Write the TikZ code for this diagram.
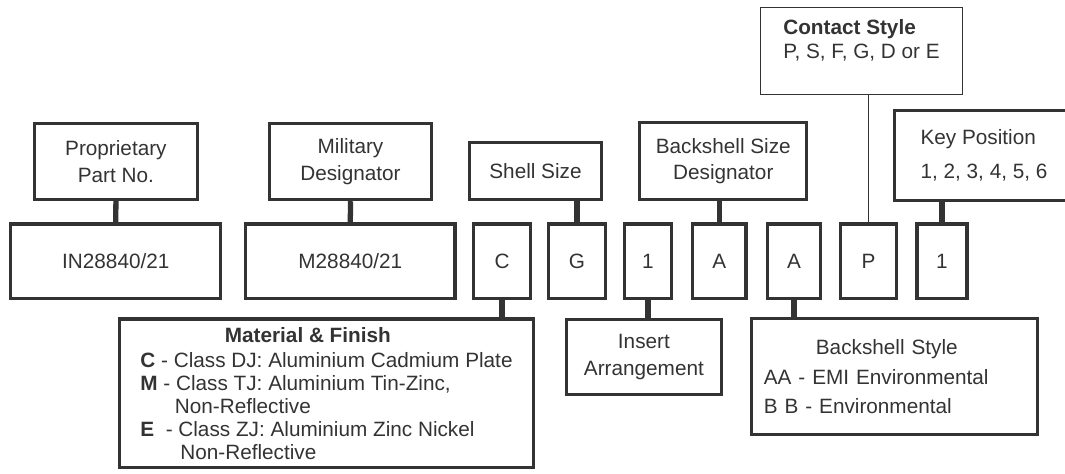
\documentclass[tikz,border=0pt]{standalone}
\usepackage{fontspec}
\setmainfont{Liberation Sans}
\definecolor{ink}{HTML}{333333}

\begin{document}
\begin{tikzpicture}[
        font=\fontsize{11.8}{15.1}\selectfont,
        box/.style={draw=ink, text=ink, line width=1.8pt, rectangle, align=center, inner sep=0pt},
        thinbox/.style={draw=ink, text=ink, line width=0.8pt, rectangle, align=left, inner sep=0pt},
        link/.style={draw=ink, line width=3pt},
        thinlink/.style={draw=ink, line width=1pt}
    ]
        \useasboundingbox (0,0) rectangle (21.3,-9.46);
        \clip (0,0) rectangle (21.3,-9.46);

        % Draw heading boxes
        \node[box, minimum height=1.53cm, minimum width=3.27cm] (prop) at (2.318,-3.228) {Proprietary \\ Part No.};
        \node[box, minimum height=1.53cm, minimum width=3.25cm] (mil) at (7.01,-3.228) {Military \\ Designator};
        \node[box, minimum height=1.15cm, minimum width=2.65cm] (shell) at (10.71,-3.418) {Shell Size};
        \node[box, minimum height=1.54cm, minimum width=3.34cm] (bsize) at (14.466,-3.22) {Backshell Size \\ Designator};
        \node[thinbox, font=\fontsize{11.8}{13.7}\selectfont, minimum height=1.73cm, minimum width=4.03cm] (contact) at (17.23,-1.02) {\textbf{Contact Style} \\ P, S, F, G, D or E \\ \mbox{}};
        \node[box, align=left, minimum height=1.8cm, minimum width=3.58cm] (keypos) at (19.68,-3.11) {Key Position \\[0.14cm] 1, 2, 3, 4, 5, 6};

        % Draw part number boxes
        \node[box, minimum height=1.49cm, minimum width=4.2cm] (in) at (2.316,-5.224) {IN28840/21};
        \node[box, minimum height=1.49cm, minimum width=4.19cm] (m) at (7.006,-5.224) {M28840/21};
        \node[box, minimum height=1.49cm, minimum width=1.13cm] (c) at (10.04,-5.224) {C};
        \node[box, minimum height=1.49cm, minimum width=1.13cm] (g) at (11.54,-5.224) {G};
        \node[box, minimum height=1.49cm, minimum width=0.95cm] (one) at (12.96,-5.224) {1};
        \node[box, minimum height=1.49cm, minimum width=1.07cm] (a) at (14.384,-5.224) {A};
        \node[box, minimum height=1.49cm, minimum width=1.07cm] (a2) at (15.88,-5.224) {A};
        \node[box, minimum height=1.49cm, minimum width=1.11cm] (p) at (17.37,-5.224) {P};
        \node[box, minimum height=1.49cm, minimum width=1.0cm] (onekey) at (18.84,-5.224) {1};

        % Draw lower boxes
        \node[box, align=left, font=\fontsize{11.8}{13.1}\selectfont, minimum height=2.97cm, minimum width=8.28cm] (material) at (6.53,-7.864) {\hspace*{1.69cm}\textbf{Material \& Finish} \\[0.04cm] \textbf{C} - Class DJ: Aluminium Cadmium Plate \\ \textbf{M} - Class TJ: Aluminium Tin-Zinc, \\ \hspace*{0.69cm}Non-Reflective \\ \textbf{E}\ \ - Class ZJ: Aluminium Zinc Nickel \\ \hspace*{0.8cm}Non-Reflective};
        \node[box, minimum height=1.49cm, minimum width=3.09cm] (insert) at (12.878,-7.143) {Insert \\ Arrangement};
        \node[box, align=left, text width=5.23cm, inner xsep=0.25cm, minimum height=2.31cm, minimum width=5.73cm] (bstyle) at (17.893,-7.533) {\hspace*{1.04cm}Backshell Style \\[0.06cm] AA - EMI Environmental \\[0.06cm] B B - Environmental};

        % Draw connectors
        \draw[link] (prop.south) -- (in.north);
        \draw[link] (mil.south) -- (m.north);
        \draw[link] (g.north) -- (g.north |- shell.south);
        \draw[link] (a.north) -- (a.north |- bsize.south);
        \draw[thinlink] (p.north) -- (p.north |- contact.south);
        \draw[link] (onekey.north) -- (onekey.north |- keypos.south);
        \draw[link] (c.south) -- (c.south |- material.north);
        \draw[link] (one.south) -- (one.south |- insert.north);
        \draw[link] (a2.south) -- (a2.south |- bstyle.north);
    \end{tikzpicture}
\end{document}
